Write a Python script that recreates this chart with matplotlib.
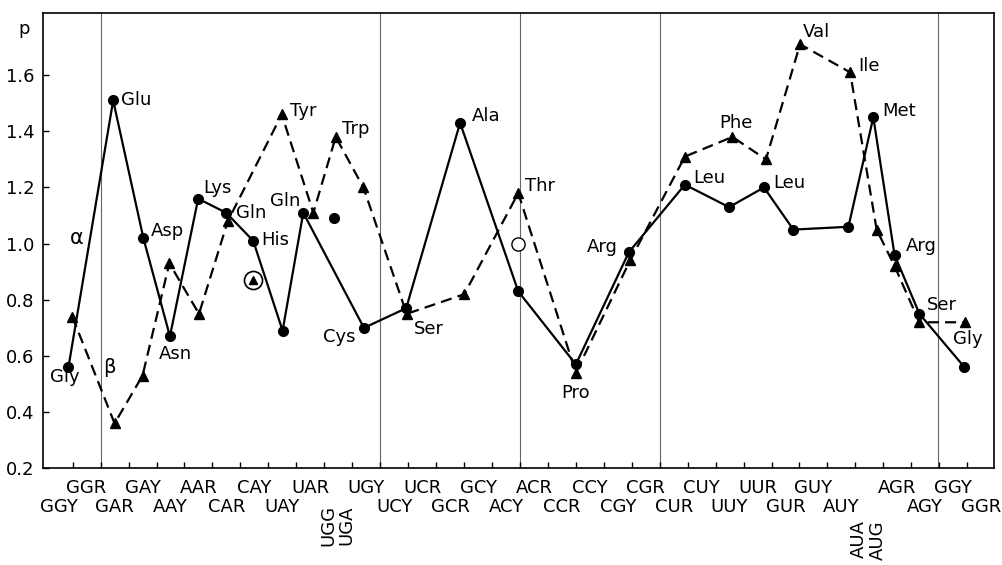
import numpy as np
import matplotlib.pyplot as plt

# codon labels along the x axis, one per integer position
codons = ["GGY", "GGR", "GAR", "GAY", "AAY", "AAR", "CAR", "CAY", "UAY", "UAR",
          "UGG/UGA", "UGY", "UCY", "UCR", "GCR", "GCY", "ACY", "ACR", "CCR", "CCY",
          "CGY", "CGR", "CUR", "CUY", "UUY", "UUR", "GUR", "GUY", "AUY",
          "AUA/AUG", "AGR", "AGY", "GGY", "GGR"]

# alpha-helix potential (solid line, circles)
alpha_aa = ["Gly", "Glu", "Asp", "Asn", "Lys", "Gln", "His", "Tyr", "Gln", "Cys",
            "Ser", "Ala", "Thr", "Pro", "Arg", "Leu", "Phe", "Leu", "Val", "Ile",
            "Met", "Arg", "Ser", "Gly"]
alpha_x = [0.35, 1.95, 3.03, 3.98, 4.99, 5.99, 6.96, 8.01, 8.75, 10.92,
           12.43, 14.36, 16.44, 18.5, 20.4, 22.4, 23.98, 25.23, 26.28, 28.25,
           29.14, 29.9, 30.79, 32.4]
alpha_p = [0.56, 1.51, 1.02, 0.67, 1.16, 1.11, 1.01, 0.69, 1.11, 0.70,
           0.77, 1.43, 0.83, 0.57, 0.97, 1.21, 1.13, 1.20, 1.05, 1.06,
           1.45, 0.96, 0.75, 0.56]

# beta-sheet potential (dashed line, triangles)
beta_x = [0.49, 2.0, 3.0, 3.96, 5.02, 6.05, 7.98, 9.11, 9.91, 10.9,
          12.45, 14.51, 16.44, 18.5, 20.44, 22.4, 24.1, 25.3, 26.52, 28.31,
          29.26, 29.9, 30.79, 32.43]
beta_p = [0.74, 0.36, 0.53, 0.93, 0.75, 1.08, 1.46, 1.11, 1.38, 1.20,
          0.75, 0.82, 1.18, 0.54, 0.94, 1.31, 1.38, 1.30, 1.71, 1.61,
          1.05, 0.92, 0.72, 0.72]

# isolated points
his_beta = (6.96, 0.87)
trp_alpha = (9.86, 1.09)
thr_open = (16.44, 1.00)

# group separators
separators = [1.5, 11.5, 16.5, 21.5, 31.45]

plt.rcParams['font.family'] = 'DejaVu Sans'
fig = plt.figure(figsize=(10.03, 5.65), dpi=100)
ax = fig.add_axes([0.0426, 0.1711, 0.9485, 0.8053])
fs = 13

for s in separators:
    ax.axvline(s, color='0.4', lw=0.8, zorder=1)

ax.plot(alpha_x, alpha_p, '-', color='black', lw=1.6, zorder=3)
ax.plot(alpha_x, alpha_p, 'o', color='black', ms=7, zorder=4)
ax.plot(beta_x, beta_p, '--', color='black', lw=1.6, dashes=(5, 2.8), zorder=3)
ax.plot(beta_x, beta_p, '^', color='black', ms=6.5, zorder=4)

ax.plot(*trp_alpha, 'o', color='black', ms=7, zorder=4)
ax.plot(*his_beta, 'o', mfc='white', mec='black', mew=1.2, ms=13, zorder=4)
ax.plot(*his_beta, '^', color='black', ms=5.5, zorder=5)
ax.plot(*thr_open, 'o', mfc='white', mec='black', mew=1.0, ms=9.5, zorder=4)

# amino acid labels: index -> (dx px, dy px, ha)
alpha_labels = {0: (-4, -10, 'center'), 1: (8, 0, 'left'), 2: (7, 7, 'left'),
                3: (5, -18, 'center'), 4: (5, 11, 'left'), 5: (10, 0, 'left'),
                6: (8, 1, 'left'), 8: (-3, 12, 'right'), 9: (-8, -9, 'right'),
                10: (8, -21, 'left'), 11: (12, 7, 'left'), 13: (0, -29, 'center'),
                14: (-11, 5, 'right'), 15: (8, 7, 'left'), 17: (9, 4, 'left'),
                20: (9, 6, 'left'), 21: (11, 9, 'left'), 22: (7, 9, 'left')}
beta_labels = {6: (8, 3, 'left'), 8: (6, 8, 'left'), 12: (7, 7, 'left'),
               16: (4, 14, 'center'), 18: (3, 12, 'left'), 19: (8, 6, 'left'),
               23: (3, -17, 'center')}
beta_names = {6: "Tyr", 8: "Trp", 12: "Thr", 16: "Phe", 18: "Val", 19: "Ile", 23: "Gly"}

for i, (dx, dy, ha) in alpha_labels.items():
    ax.annotate(alpha_aa[i], (alpha_x[i], alpha_p[i]), xytext=(dx, dy),
                textcoords='offset pixels', ha=ha, va='center', fontsize=fs)
for i, (dx, dy, ha) in beta_labels.items():
    ax.annotate(beta_names[i], (beta_x[i], beta_p[i]), xytext=(dx, dy),
                textcoords='offset pixels', ha=ha, va='center', fontsize=fs)

ax.text(0.64, 1.02, 'α', fontsize=15, ha='center', va='center')
ax.text(1.8, 0.56, 'β', fontsize=14, ha='center', va='center')

ax.set_xlim(-0.57, 33.46)
ax.set_ylim(0.2, 1.82)
ax.set_xticks(np.arange(0.5, 33, 1.0))
ax.set_xticklabels([])
ax.set_yticks(np.arange(0.2, 1.61, 0.2))
ax.set_yticklabels(['%.1f' % v for v in np.arange(0.2, 1.61, 0.2)], fontsize=fs)
ax.tick_params(direction='in', length=4, width=1, pad=6)
for sp in ax.spines.values():
    sp.set_linewidth(1.2)

ax.text(-0.02, 1.765, 'p', transform=ax.get_yaxis_transform(), fontsize=fs,
        ha='center', va='center')

# codon labels in two staggered rows, two rotated pairs
xt = ax.get_xaxis_transform()
for i, c in enumerate(codons):
    if '/' in c:
        a, b = c.split('/')
        top = -0.081 if i < 20 else -0.114
        ax.text(i - 0.37, top, a, transform=xt, rotation=90, ha='center', va='top', fontsize=fs)
        ax.text(i + 0.3, top, b, transform=xt, rotation=90, ha='center', va='top', fontsize=fs)
        continue
    upper = (i % 2 == 1) if i < 29 else (i % 2 == 0)
    y = -0.044 if upper else -0.0845
    ax.text(i, y, c, transform=xt, ha='center', va='center', fontsize=fs)

fig.savefig('out.png', dpi=100)
